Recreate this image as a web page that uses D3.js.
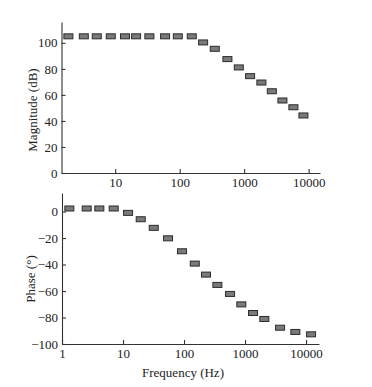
<!DOCTYPE html>
<html>
<head>
<meta charset="utf-8">
<script src="https://cdn.jsdelivr.net/npm/d3@7"></script>
<style>
  body { margin: 0; background: #fff; }
  svg { display: block; }
  .axis text { font-family: "Liberation Serif", "DejaVu Serif", serif; font-size: 13px; fill: #222; }
  .axis path, .axis line { stroke: #333; stroke-width: 1.1; }
  .title { font-family: "Liberation Serif", "DejaVu Serif", serif; font-size: 13px; fill: #222; }
</style>
</head>
<body>
<svg id="chart" width="372" height="387"></svg>
<script>
// magnitude response (top panel)
var magFreq = [1.88, 3.26, 5.18, 8.54, 14.2, 21.1, 33.9, 59.4, 93.5, 154, 231, 350, 550, 826, 1236, 1850, 2684, 3920, 5803, 8300]
var magDb = [105, 105, 105, 105, 105, 105, 105, 105, 105, 105, 100.3, 95.4, 87.5, 81.1, 74.4, 69.5, 62.8, 55.7, 50.5, 44.2]

// phase response (bottom panel)
var phaseFreq = [1.32, 2.54, 4.09, 7.04, 12.1, 19.5, 31.9, 54.7, 92.7, 150, 229, 352, 568, 869, 1352, 2071, 3751, 6676, 12080]
var phaseDeg = [2.3, 2.3, 2.3, 2.3, -1.0, -5.8, -12.3, -20.2, -30.0, -39.3, -47.6, -55.4, -62.2, -70.1, -76.6, -81.1, -87.7, -90.9, -92.7]

var magTicksY = [0, 20, 40, 60, 80, 100]
var phaseTicksY = [-100, -80, -60, -40, -20, 0]
var magTicksX = [10, 100, 1000, 10000]
var phaseTicksX = [1, 10, 100, 1000, 10000]

var svg = d3.select('#chart')
var markW = 9, markH = 5

/* Draws one panel: axes inward ticks, and rectangle markers */
function panel(opt) {
	var x = d3.scaleLog().domain(opt.xDomain).range(opt.xRange)
	var y = d3.scaleLinear().domain(opt.yDomain).range(opt.yRange)
	var g = svg.append('g')

	g.append('g').attr('class', 'axis')
		.attr('transform', 'translate(0,' + opt.yRange[0] + ')')
		.call(d3.axisBottom(x).tickValues(opt.xTicks).tickFormat(d3.format('d'))
			.tickSizeInner(-4).tickSizeOuter(0).tickPadding(5))

	g.append('g').attr('class', 'axis')
		.attr('transform', 'translate(' + opt.xRange[0] + ',0)')
		.call(d3.axisLeft(y).tickValues(opt.yTicks)
			.tickSizeInner(-4).tickSizeOuter(0).tickPadding(4))

	g.selectAll('.axis text').attr('fill', '#222')

	var pts = opt.freq.map(function(f, i) { return { f: f, v: opt.vals[i] } })
	g.selectAll('rect.mark').data(pts).enter().append('rect')
		.attr('class', 'mark')
		.attr('x', function(d) { return x(d.f) - markW / 2 })
		.attr('y', function(d) { return y(d.v) - markH / 2 })
		.attr('width', markW)
		.attr('height', markH)
		.style('fill', '#7a7a7a')
		.style('stroke', '#2b2b2b')
		.style('stroke-width', 1)

	g.append('text').attr('class', 'title')
		.attr('transform', 'translate(' + opt.labelX + ',' + opt.labelY + ') rotate(-90)')
		.attr('text-anchor', 'middle')
		.attr('dy', '0.35em')
		.text(opt.yLabel)
}

panel({
	xDomain: [1.47, 15000], xRange: [61.5, 320],
	yDomain: [0, 116], yRange: [173, 22],
	xTicks: magTicksX, yTicks: magTicksY,
	freq: magFreq, vals: magDb,
	yLabel: 'Magnitude (dB)', labelX: 32, labelY: 110
})

panel({
	xDomain: [1, 16300], xRange: [62, 319],
	yDomain: [-100, 14], yRange: [344, 193],
	xTicks: phaseTicksX, yTicks: phaseTicksY,
	freq: phaseFreq, vals: phaseDeg,
	yLabel: 'Phase (°)', labelX: 30, labelY: 279
})

svg.append('text').attr('class', 'title')
	.attr('x', 183).attr('y', 377)
	.attr('text-anchor', 'middle')
	.text('Frequency (Hz)')
</script>
</body>
</html>
